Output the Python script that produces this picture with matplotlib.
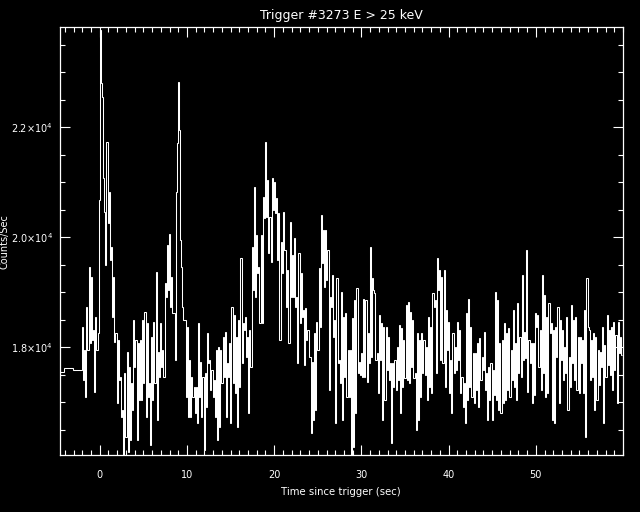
import numpy as np
import matplotlib
matplotlib.use("Agg")
import matplotlib.pyplot as plt
from matplotlib.ticker import MultipleLocator, FixedLocator

# ---- data ----
title = "Trigger #3273 E > 25 keV"
xlabel = "Time since trigger (sec)"
ylabel = "Counts/Sec"

# pre-trigger 1.024 s bins
pre_edges = [-5.12, -4.096, -3.072, -2.048]
pre_counts = [17540, 17620, 17580]

# post -2.048 s: pairs of consecutive 0.128 s samples (counts/s)
fine_start = -2.048
fine_dt = 0.128
fine_pairs = [
    (18375, 17405), (17950, 17102), (18738, 17950), (19465, 18072), (19284, 18132),
    (18314, 17193), (18556, 17950), (18250, 20680), (23768, 22800), (22556, 21070),
    (20465, 19496), (21738, 20253), (20829, 19587), (19829, 18556), (19284, 18102),
    (18253, 16981), (18132, 17405), (17466, 16738), (16860, 16042), (17526, 16375),
    (17920, 16100), (17647, 16314), (17344, 16860), (18496, 17647), (18132, 16314),
    (18072, 17041), (18132, 17041), (18496, 17344), (18647, 16738), (18435, 17102),
    (17344, 16223), (18193, 17041), (18465, 17344), (19362, 16678), (17920, 17466),
    (18435, 17647), (17950, 17466), (19162, 18920), (19859, 19041), (20059, 18738),
    (19284, 18617), (18617, 17768), (20829, 21708), (22829, 21950), (19950, 19465),
    (18738, 18496), (18496, 17102), (18375, 16738), (17768, 16738), (17466, 17102),
    (17284, 16799), (17284, 16617), (18435, 17102), (17738, 16738), (17466, 16132),
    (17526, 16920), (18253, 17708), (17768, 17223), (17587, 17102), (17405, 16738),
    (17950, 16314), (18011, 16556), (17950, 17344), (18193, 17466), (18284, 16738),
    (17708, 17466), (18072, 16617), (18738, 17344), (18587, 17163), (18193, 16556),
    (18496, 17284), (19617, 17708), (18435, 18314), (18556, 17829), (18193, 16799),
    (18314, 17647), (19829, 19041), (20920, 18920), (20041, 19344), (19465, 18435),
    (20041, 18435), (20738, 20344), (21738, 20374), (21041, 19708), (20374, 19556),
    (21071, 20496), (21011, 20435), (20708, 19587), (20435, 18132), (19920, 19344),
    (20465, 19768), (19768, 18738), (19405, 18072), (20283, 18920), (19678, 18920),
    (19980, 18738), (18920, 17708), (19708, 18435), (19344, 18556), (18678, 17678),
    (18708, 18132), (18314, 17829), (17829, 16435), (17738, 16678), (18253, 16860),
    (18465, 17950), (19435, 18375), (20405, 19526), (20132, 19102), (20132, 19223),
    (19768, 17223), (18920, 18738), (19314, 18193), (18496, 16617), (19253, 17708),
    (17768, 17344), (19011, 16678), (18556, 17466), (18617, 17102), (17950, 17102),
    (17950, 16042), (18527, 16194), (18860, 16800), (19072, 17527), (17739, 17497),
    (17890, 17466), (18878, 17466), (18860, 17375), (18254, 17709), (19830, 17830),
    (19254, 19042), (18981, 17769), (17890, 17163), (18587, 17769), (18436, 16678),
    (18375, 17042), (18375, 17587), (18193, 17406), (17709, 16254), (17709, 17284),
    (17769, 17224), (18012, 17406), (18406, 16800), (18345, 17284), (18133, 17436),
    (18769, 17406), (18830, 17345), (18648, 17648), (18497, 17436), (17527, 16497),
    (18254, 16678), (18133, 17103), (18254, 17527), (18133, 17497), (18012, 17042),
    (18557, 17285), (18375, 17163), (18981, 18739), (18860, 17527), (19618, 19042),
    (19406, 17769), (19284, 17709), (19406, 17285), (18678, 17951), (18466, 17163),
    (17769, 16800), (18254, 17527), (18012, 17587), (18466, 17769), (18315, 17163),
    (17466, 16921), (17345, 16618), (18618, 17042), (18878, 17285), (18375, 17103),
    (17890, 16982), (17890, 17224), (18072, 16921), (18163, 17406), (17830, 17587),
    (18284, 17224), (17527, 16678), (17648, 17042), (17709, 16678), (17587, 17133),
    (19012, 17042), (18860, 16860), (18072, 16800), (18133, 16982), (18436, 17042),
    (18254, 17224), (18345, 17103), (17951, 17406), (18678, 17285), (18072, 17042),
    (18800, 17527), (18193, 17466), (19315, 17769), (18284, 17800), (19769, 17194),
    (18133, 17709), (18072, 16982), (18072, 17133), (18618, 18375), (18587, 17648),
    (18315, 17224), (19315, 17527), (18951, 17103), (18557, 17163), (18800, 18254),
    (18436, 16678), (18315, 16618), (18375, 17830), (18739, 16982), (18497, 17769),
    (18315, 17406), (18012, 17527), (18557, 16860), (17830, 17285), (18769, 17709),
    (18497, 17406), (18557, 17224), (18193, 17163), (18193, 17709), (18133, 17163),
    (18678, 16376), (19254, 18375), (18315, 17406), (18133, 17466), (18254, 16860),
    (18193, 17042), (17951, 17315), (17921, 17648), (18375, 16618), (18042, 17466),
    (18587, 17678), (18315, 17497), (18375, 17224), (18466, 17587), (18224, 16982),
    (18466, 17890), (18193, 17860),
]

xlim = (-4.56, 60.0)
ylim = (16040, 23820)
ymajor = [18000, 20000, 22000]
ymajor_labels = [r"1.8$\times$10$^{4}$", r"2.0$\times$10$^{4}$", r"2.2$\times$10$^{4}$"]
xmajor = [0, 10, 20, 30, 40, 50]

# ---- build series ----
fine = np.array(fine_pairs, dtype=float).ravel()
fine_edges = fine_start + fine_dt * np.arange(len(fine) + 1)
values = np.concatenate([pre_counts, fine])
edges = np.concatenate([pre_edges[:-1], fine_edges])

# ---- figure ----
W, H = 640, 512
fig = plt.figure(figsize=(W / 100, H / 100), dpi=100, facecolor="black")
ax = fig.add_axes([60 / W, 1 - 455 / H, (623 - 60) / W, (455 - 27) / H])
ax.set_facecolor("black")

ax.stairs(values, edges, baseline=None, color="white", lw=0.75)

ax.set_xlim(*xlim)
ax.set_ylim(*ylim)

for s in ax.spines.values():
    s.set_color("white")
    s.set_linewidth(0.9)

ax.xaxis.set_major_locator(FixedLocator(xmajor))
ax.xaxis.set_minor_locator(MultipleLocator(1))
ax.set_xticklabels([str(v) for v in xmajor])
ax.yaxis.set_major_locator(FixedLocator(ymajor))
ax.yaxis.set_minor_locator(MultipleLocator(500))
ax.set_yticklabels(ymajor_labels)

ax.tick_params(which="both", direction="in", colors="white", top=True, right=True,
               labelsize=7, width=0.8)
ax.tick_params(which="major", length=7.5)
ax.tick_params(which="minor", length=3.8)
ax.tick_params(axis="x", which="major", pad=11)
ax.tick_params(axis="y", which="major", pad=5)
for lab in ax.get_xticklabels() + ax.get_yticklabels():
    lab.set_color("white")

fig.text(341 / W, 1 - 15 / H, title, color="white", fontsize=9,
         ha="center", va="center")
fig.text(341 / W, 1 - 492 / H, xlabel, color="white", fontsize=7.3,
         ha="center", va="center")
fig.text(5 / W, 1 - 242 / H, ylabel, color="white", fontsize=7,
         ha="center", va="center", rotation=90)

fig.savefig("out.png", dpi=100, facecolor="black")
